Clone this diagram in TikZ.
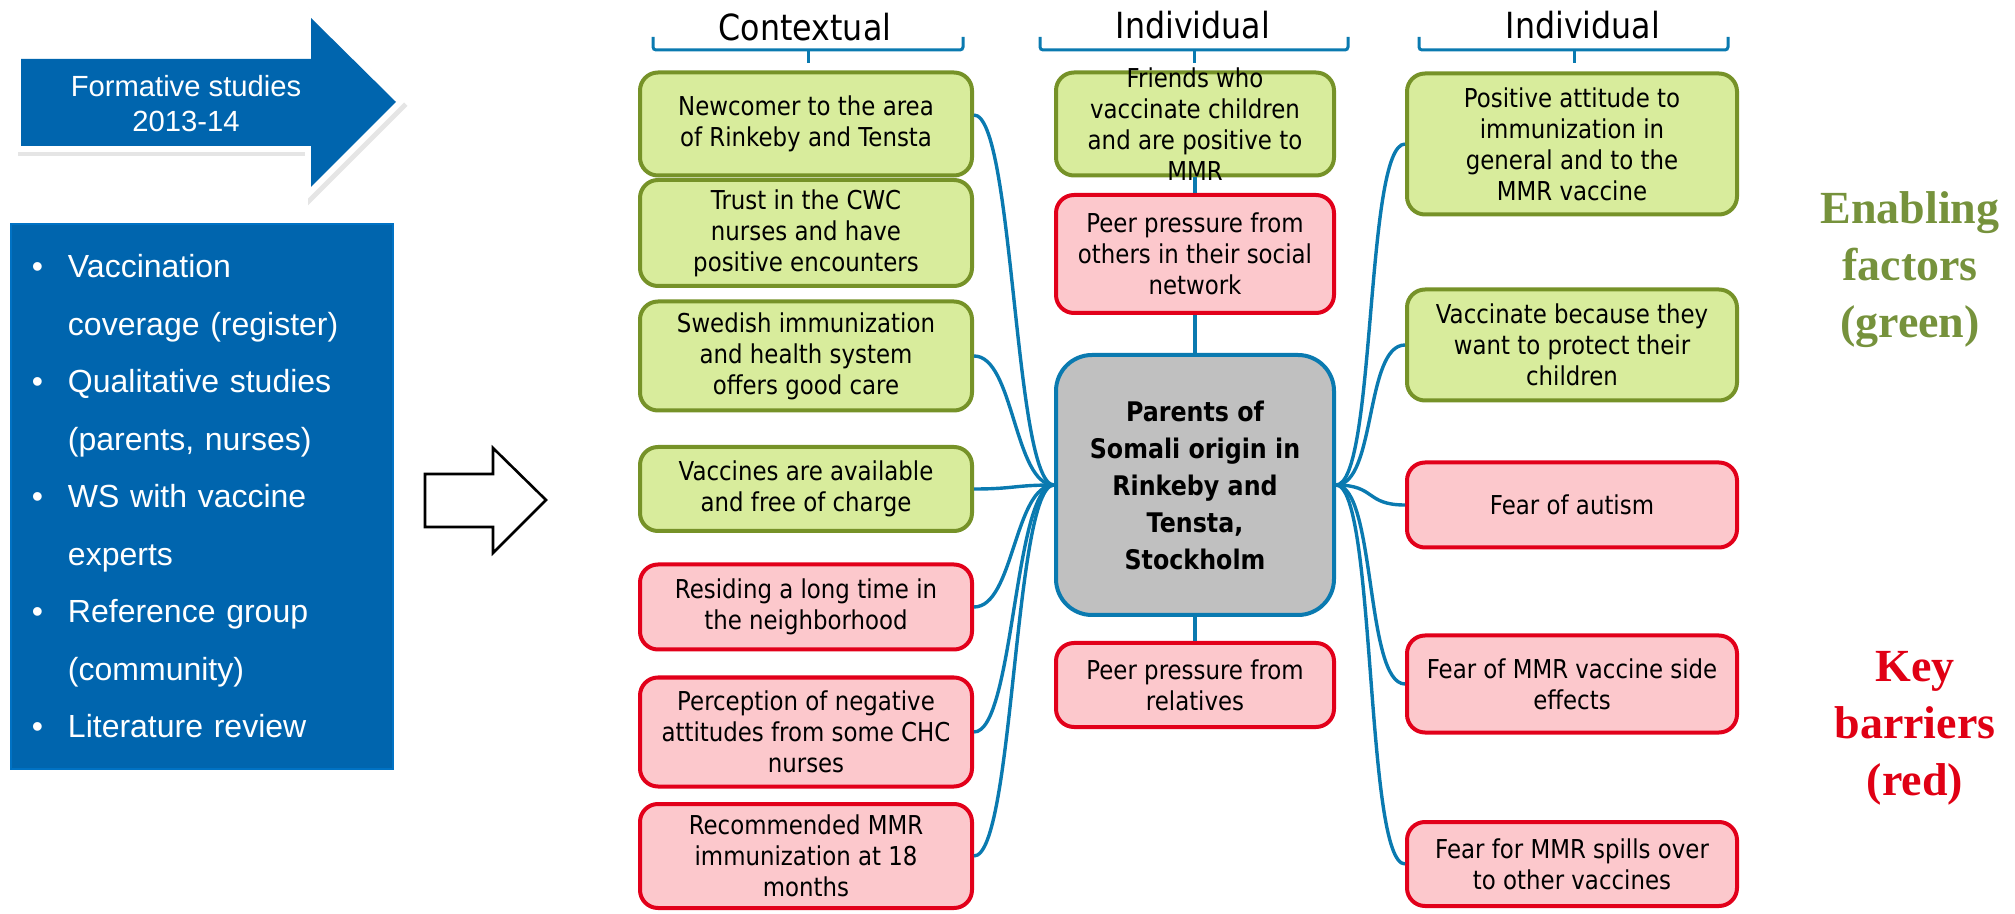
\documentclass[tikz,border=0pt]{standalone}
\usepackage{fontspec}
\setmainfont{Liberation Sans}
\newfontfamily\boxfont[FakeStretch=0.88]{DejaVu Sans}
\newfontfamily\labelfont{Liberation Serif}
\usetikzlibrary{positioning}

\definecolor{linkblue}{RGB}{10,122,176}
\definecolor{greenfill}{RGB}{216,236,156}
\definecolor{greenline}{RGB}{118,146,40}
\definecolor{redfill}{RGB}{252,200,204}
\definecolor{redline}{RGB}{226,0,26}
\definecolor{hubfill}{RGB}{192,192,192}
\definecolor{studyblue}{RGB}{0,101,174}
\definecolor{studyedge}{RGB}{0,114,196}
\definecolor{enabletext}{RGB}{118,146,60}
\definecolor{keytext}{RGB}{224,0,20}

\newcommand{\studyitem}{\makebox[18pt][l]{\textbullet}}
\newcommand{\studyindent}{\hspace*{18pt}}

\begin{document}
\begin{tikzpicture}[x=0.5pt, y=-0.5pt,
    factor/.style={rounded corners=9pt, line width=2pt, align=center, inner sep=2pt,
        font=\boxfont\fontsize{13pt}{15.5pt}\selectfont},
    enabler/.style={factor, fill=greenfill, draw=greenline},
    barrier/.style={factor, fill=redfill, draw=redline},
    leftcol/.style={minimum width=166pt},
    midcol/.style={minimum width=139pt},
    rightcol/.style={minimum width=165pt},
    hubbox/.style={rounded corners=18pt, line width=2pt, fill=hubfill, draw=linkblue,
        align=center, minimum width=139pt, minimum height=130pt,
        font=\boxfont\bfseries\fontsize{13.5pt}{18.5pt}\selectfont},
    heading/.style={anchor=base, font=\boxfont\fontsize{18pt}{20pt}\selectfont},
    sidelabel/.style={align=center, font=\labelfont\bfseries\fontsize{23pt}{28.5pt}\selectfont},
    link/.style={draw=linkblue, line width=1.7pt},
    bracket/.style={draw=linkblue, line width=1.5pt, rounded corners=1.5pt},
    formshape/.style={insert path={(21,59) -- (311,59) -- (311,18) -- (396,102)
        -- (311,187) -- (311,146) -- (21,146) -- cycle}}
]
            \useasboundingbox (0,0) rectangle (2015,914);

            %Left side
            \begin{scope}[shift={(3,4)}]
                \path[fill=black!10, draw=black!10, line width=6pt, line join=miter, formshape];
            \end{scope}
            \path[fill=white, draw=white, line width=6pt, line join=miter, formshape];
            \path[fill=studyblue, formshape];
            \node[text=white, align=center, font=\fontsize{14.6pt}{17.5pt}\selectfont] at (186,104) (formative) {Formative studies\\2013-14};

            \node[fill=studyblue, draw=studyedge, line width=1pt, text=white, align=left,
                text width=170pt, inner xsep=10.5pt, minimum height=272.5pt,
                font=\fontsize{16pt}{28.75pt}\selectfont] at (202,496.5) (studies)
                {\studyitem Vaccination\\
                 \studyindent coverage (register)\\
                 \studyitem Qualitative studies\\
                 \studyindent (parents, nurses)\\
                 \studyitem WS with vaccine\\
                 \studyindent experts\\
                 \studyitem Reference group\\
                 \studyindent (community)\\
                 \studyitem Literature review};

            \draw[line width=1.3pt, line join=miter] (425,474) -- (493,474) -- (493,448) -- (546,500)
                -- (493,553) -- (493,527) -- (425,527) -- cycle;

            %Headings
            \node[heading] at (805,41)  (context) {Contextual};
            \node[heading] at (1193,39) (indiv)   {Individual};
            \node[heading] at (1583,39) (indivb)  {Individual};
            \draw[bracket] (653,37) |- (963,50) -- (963,37);
            \draw[bracket] (808,50) -- (808,63);
            \draw[bracket] (1040,37) |- (1348,50) -- (1348,37);
            \draw[bracket] (1194,50) -- (1194,63);
            \draw[bracket] (1419,37) |- (1728,50) -- (1728,37);
            \draw[bracket] (1574,50) -- (1574,63);

            %Nodes
            \node[enabler, leftcol, minimum height=51.5pt] at (806,124) (newc)   {Newcomer to the area\\of Rinkeby and Tensta};
            \node[enabler, leftcol, minimum height=53pt]   at (806,233) (trust)  {Trust in the CWC\\nurses and have\\positive encounters};
            \node[enabler, leftcol, minimum height=54.5pt] at (806,356) (swed)   {Swedish immunization\\and health system\\offers good care};
            \node[enabler, leftcol, minimum height=42pt]   at (806,489) (avail)  {Vaccines are available\\and free of charge};
            \node[barrier, leftcol, minimum height=42.5pt] at (806,607) (resid)  {Residing a long time in\\the neighborhood};
            \node[barrier, leftcol, minimum height=54.5pt] at (806,732) (percep) {Perception of negative\\attitudes from some CHC\\nurses};
            \node[barrier, leftcol, minimum height=52pt]   at (806,856) (recom)  {Recommended MMR\\immunization at 18\\months};

            \node[enabler, midcol, minimum height=51.5pt] at (1195,124) (friends) {};
            \node[factor, draw=none] at (friends) (friendstxt) {Friends who\\vaccinate children\\and are positive to\\MMR};
            \node[barrier, midcol, minimum height=59pt]   at (1195,254) (peerso)  {Peer pressure from\\others in their social\\network};
            \node[hubbox] at (1195,485) (parents) {Parents of\\Somali origin in\\Rinkeby and\\Tensta,\\Stockholm};
            \node[barrier, midcol, minimum height=42pt]   at (1195,685) (peersr)  {Peer pressure from\\relatives};

            \node[enabler, rightcol, minimum height=70.5pt] at (1572,144) (posatt)  {Positive attitude to\\immunization in\\general and to the\\MMR vaccine};
            \node[enabler, rightcol, minimum height=55.5pt] at (1572,345) (protect) {Vaccinate because they\\want to protect their\\children};
            \node[barrier, rightcol, minimum height=42.5pt] at (1572,505) (autism)  {Fear of autism};
            \node[barrier, rightcol, minimum height=48.5pt] at (1572,684) (sidefx)  {Fear of MMR vaccine side\\effects};
            \node[barrier, rightcol, minimum height=42pt]   at (1572,864) (spill)   {Fear for MMR spills over\\to other vaccines};

            \node[sidelabel, text=enabletext] at (1910,270) (enabling) {Enabling\\factors\\(green)};
            \node[sidelabel, text=keytext]    at (1915,728) (barriers) {Key\\barriers\\(red)};

            %Lines
            \draw[link] ([yshift=4.5pt]newc.east) .. controls +(40,0) and +(-40,0) .. (parents.west);
            \draw[link] (swed.east)   .. controls +(40,0) and +(-40,0) .. (parents.west);
            \draw[link] (avail.east)  .. controls +(40,0) and +(-40,0) .. (parents.west);
            \draw[link] (resid.east)  .. controls +(40,0) and +(-40,0) .. (parents.west);
            \draw[link] (percep.east) .. controls +(40,0) and +(-40,0) .. (parents.west);
            \draw[link] (recom.east)  .. controls +(40,0) and +(-40,0) .. (parents.west);
            \draw[link] (parents.east) .. controls +(40,0) and +(-40,0) .. (posatt.west);
            \draw[link] (parents.east) .. controls +(40,0) and +(-40,0) .. (protect.west);
            \draw[link] (parents.east) .. controls +(40,0) and +(-40,0) .. (autism.west);
            \draw[link] (parents.east) .. controls +(40,0) and +(-40,0) .. (sidefx.west);
            \draw[link] (parents.east) .. controls +(40,0) and +(-40,0) .. (spill.west);
            \draw[link] (friends) -- (peerso);
            \draw[link] (peerso) -- (parents);
            \draw[link] (parents) -- (peersr);
\end{tikzpicture}
\end{document}
